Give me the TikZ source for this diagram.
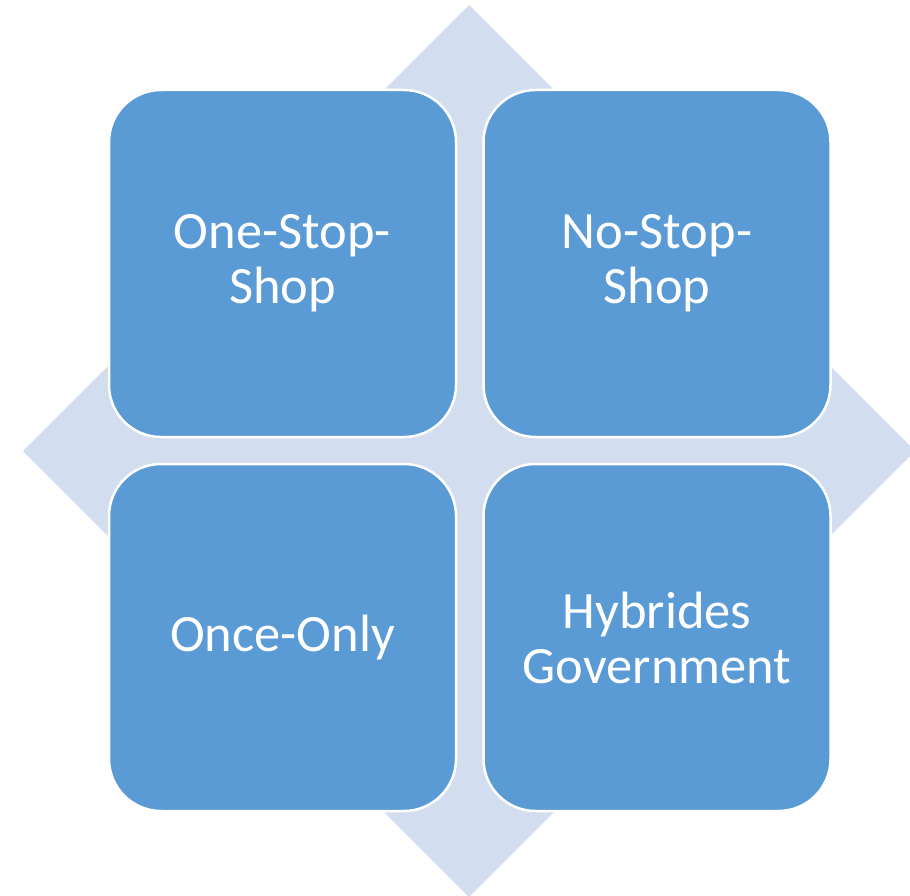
\documentclass[tikz,border=0pt]{standalone}
\usepackage{fontspec}
\setmainfont{Carlito}
\definecolor{boxblue}{HTML}{5B9BD5}
\definecolor{diamcol}{HTML}{D2DEEF}
\tikzset{
  quadbox/.style={draw=white, line width=2.5pt, fill=boxblue, rounded corners=52pt,
    minimum width=347pt, minimum height=347pt, inner sep=0pt, align=center,
    text=white, font=\fontsize{52.5}{55}\selectfont},
}
\begin{document}
\begin{tikzpicture}[x=1pt,y=-1pt]
\path[use as bounding box] (0,0) rectangle (910,896);
\clip (0,0) rectangle (910,896);
\fill[diamcol] (469,5) -- (915,451) -- (469,897) -- (23,451) -- cycle;
\node[quadbox] (tl) at (282.5,263.5) {One-Stop-\\Shop};
\node[quadbox] (tr) at (657,263.5) {No-Stop-\\Shop};
\node[quadbox] (bl) at (282.5,637.5) {Once-Only};
\node[quadbox] (br) at (657,637.5) {Hybrides\\Government};
\end{tikzpicture}
\end{document}
